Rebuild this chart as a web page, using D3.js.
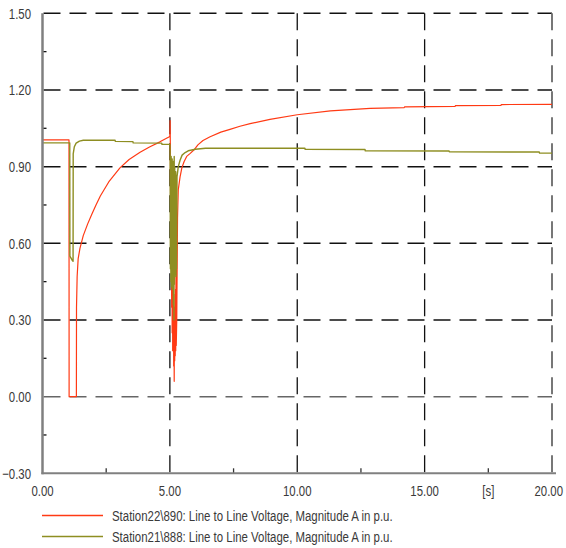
<!DOCTYPE html>
<html><head><meta charset="utf-8">
<script src="https://cdn.jsdelivr.net/npm/d3@7"></script>
<style>html,body{margin:0;padding:0;background:#fff;}svg{display:block;}</style>
</head><body>
<svg id="c" width="566" height="548"></svg>
<script>
// ---- data ----
const xTicks = [0, 5, 10, 15, 20];
const xMinor = [2.5, 7.5, 12.5, 17.5];
const yTicks = [-0.3, 0, 0.3, 0.6, 0.9, 1.2, 1.5];
const yMinor = [-0.15, 0.15, 0.45, 0.75, 1.05, 1.35];
const xUnit = "[s]";
const seriesNames = [
  "Station22\\890: Line to Line Voltage, Magnitude A in p.u.",
  "Station21\\888: Line to Line Voltage, Magnitude A in p.u."
];
// Station22\890 (red) [time s, voltage p.u.]
const station22 = [
  [0,1.005],[1.04,1.005],[1.045,0],[1.33,0],[1.335,0.35],[1.36,0.47],[1.40,0.54],[1.47,0.58],
  [1.6,0.63],[1.77,0.675],[1.94,0.715],[2.1,0.75],[2.27,0.785],[2.6,0.84],[3.04,0.895],
  [3.4,0.928],[3.83,0.956],[4.2,0.977],[4.61,0.997],[4.98,1.017],[5.0,1.02],
  [5.01,1.08],[5.02,0.95],[5.03,0.72],[5.04,0.9],[5.05,0.6],[5.06,0.86],[5.07,0.35],[5.08,0.72],
  [5.09,0.25],[5.10,0.62],[5.11,0.18],[5.12,0.52],[5.13,0.2],[5.14,0.45],[5.15,0.12],[5.16,0.4],
  [5.17,0.06],[5.18,0.3],[5.19,0.14],[5.20,0.35],[5.21,0.16],[5.22,0.42],[5.23,0.18],[5.24,0.5],
  [5.25,0.2],[5.27,0.3],[5.30,0.7],[5.33,0.81],[5.4,0.86],[5.47,0.895],[5.56,0.92],[5.66,0.94],
  [5.8,0.952],[5.95,0.966],[6.1,0.985],[6.3,1.002],[6.58,1.017],[7.0,1.035],[7.36,1.046],
  [7.75,1.058],[8.15,1.068],[8.93,1.085],[10.0,1.103],[11.3,1.118],[12.86,1.128],[14.2,1.131],
  [14.21,1.134],[16.2,1.136],[16.21,1.139],[18.0,1.140],[18.01,1.143],[20,1.144]
];
// Station21\888 (olive)
const station21 = [
  [0,0.993],[1.07,0.993],[1.075,0.55],[1.17,0.533],[1.2,0.53],[1.205,0.95],[1.25,0.978],
  [1.32,0.992],[1.45,1.0],[1.6,1.003],[2.85,1.003],[2.86,0.999],[3.55,0.998],[3.56,0.993],
  [4.68,0.992],[4.69,0.987],[5.0,0.987],
  [5.01,0.96],[5.02,0.5],[5.03,0.92],[5.04,0.45],[5.05,0.94],[5.06,0.43],[5.07,0.9],[5.08,0.46],
  [5.09,0.93],[5.10,0.42],[5.11,0.9],[5.12,0.45],[5.13,0.92],[5.14,0.36],[5.15,0.88],[5.16,0.3],
  [5.17,0.94],[5.18,0.44],[5.19,0.9],[5.20,0.48],[5.21,0.86],[5.22,0.5],[5.23,0.88],[5.24,0.47],
  [5.25,0.8],[5.26,0.5],[5.28,0.86],[5.33,0.9],[5.4,0.925],[5.48,0.945],[5.6,0.955],[5.72,0.962],
  [6.0,0.968],[6.4,0.972],[10.3,0.972],[10.31,0.968],[12.66,0.967],[12.67,0.962],[15.96,0.961],
  [15.97,0.958],[19.5,0.957],[19.51,0.953],[20,0.953]
];
const colors = ["#ff3a14", "#8e8e22"];

// ---- layout ----
const svg = d3.select("#c");
const x = d3.scaleLinear().domain([0, 20]).range([42.5, 552]);
const y = d3.scaleLinear().domain([-0.3, 1.5]).range([473.3, 13.3]);
const fmt = d3.format(".2f");
const FONT = "'Liberation Sans', Arial, sans-serif";
const SQ = 0.76;

// condensed text: placed via transform with horizontal squeeze
function label(parent, str, px, py, anchor, size, sx){
  return parent.append("text")
    .attr("transform", `translate(${px},${py}) scale(${sx||SQ},1)`)
    .attr("text-anchor", anchor)
    .attr("font-family", FONT).attr("font-size", size).attr("fill", "#3a3a3a")
    .text(str);
}

// grid horizontal
svg.append("g").selectAll("line").data(yTicks.filter(d=>d>-0.3)).join("line")
  .attr("x1", x(0)+1).attr("x2", x(20)).attr("y1", d=>y(d)).attr("y2", d=>y(d))
  .attr("stroke", d=> d===0 ? "#666" : "#111").attr("stroke-width",1.5)
  .attr("stroke-dasharray","17,9");
// grid vertical
svg.append("g").selectAll("line").data(xTicks.filter(d=>d>0)).join("line")
  .attr("x1", d=>x(d)).attr("x2", d=>x(d)).attr("y1", y(1.5)).attr("y2", y(-0.3))
  .attr("stroke", d=> d===20 ? "#777" : "#111").attr("stroke-width", d=> d===20?2:1.3)
  .attr("stroke-dasharray","17,9");
// minor ticks
svg.append("g").selectAll("line").data(yMinor).join("line")
  .attr("x1", x(0)).attr("x2", x(0)+4).attr("y1", d=>y(d)).attr("y2", d=>y(d))
  .attr("stroke","#111").attr("stroke-width",1.3);
svg.append("g").selectAll("line").data(xMinor).join("line")
  .attr("x1", d=>x(d)).attr("x2", d=>x(d)).attr("y1", y(-0.3)).attr("y2", y(-0.3)-5)
  .attr("stroke","#333").attr("stroke-width",1.3);

// series
const line = d3.line().x(d=>x(d[0])).y(d=>y(d[1]));
svg.append("path").datum(station22).attr("d", line).attr("fill","none")
  .attr("stroke", colors[0]).attr("stroke-width",1.2).attr("stroke-linejoin","round");
svg.append("path").datum(station21).attr("d", line).attr("fill","none")
  .attr("stroke", colors[1]).attr("stroke-width",1.4).attr("stroke-linejoin","round");

// axes lines
svg.append("line").attr("x1", x(0)).attr("x2", x(0)).attr("y1", y(1.5)).attr("y2", y(-0.3)+1)
  .attr("stroke","#808080").attr("stroke-width",2.5);
svg.append("line").attr("x1", x(0)-1).attr("x2", x(20)+4).attr("y1", y(-0.3)).attr("y2", y(-0.3))
  .attr("stroke","#808080").attr("stroke-width",2);

// tick labels
const tl = svg.append("g");
yTicks.forEach(d => label(tl, fmt(d), 31, y(d)+5.3, "end", 15));
xTicks.forEach(d => {
  if (d === 20) label(tl, fmt(d), 563, 496, "end", 15);
  else label(tl, fmt(d), x(d), 496, "middle", 15);
});
label(tl, xUnit, x(17.5), 496, "middle", 15);

// legend
const lg = svg.append("g");
seriesNames.forEach((name,i)=>{
  const yy = 515.5 + i*21;
  lg.append("line").attr("x1",42).attr("x2",103).attr("y1",yy).attr("y2",yy)
    .attr("stroke",colors[i]).attr("stroke-width",1.5);
  const t = label(lg, name, 112, yy+5, "start", 14, 1);
  const w = t.node().getComputedTextLength();
  t.attr("transform", `translate(112,${yy+5}) scale(${281/w},1)`);
});
</script>
</body></html>
